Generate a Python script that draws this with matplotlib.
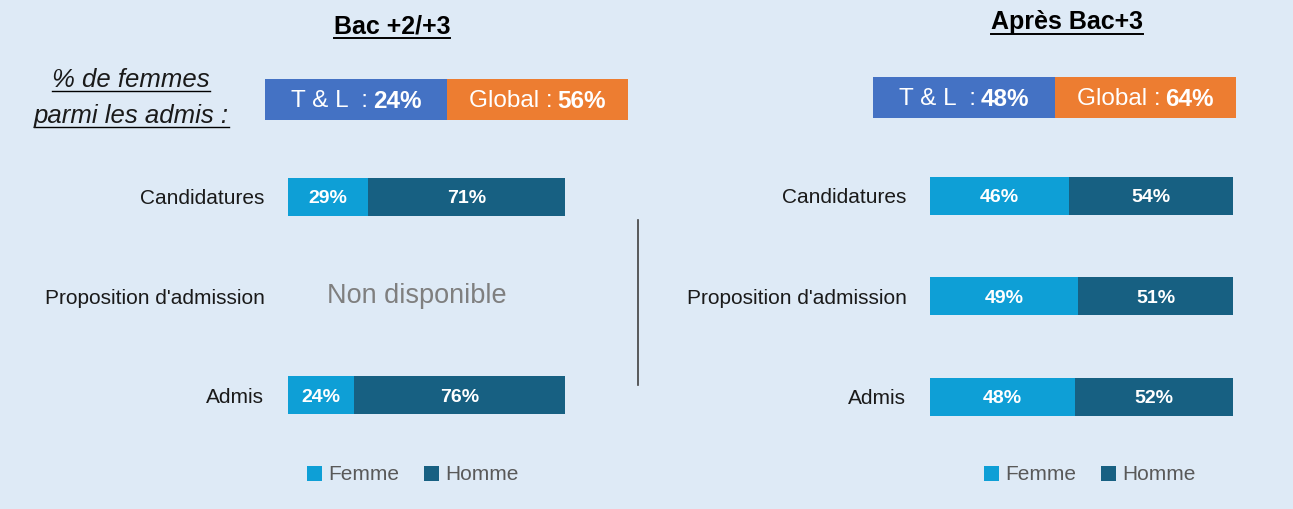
import matplotlib.pyplot as plt
from matplotlib.patches import Rectangle
from matplotlib.lines import Line2D

W, H = 1293, 509
BG = "#DEEAF6"
FEMME_C = "#0E9FD6"
HOMME_C = "#176082"
BLUE_BOX = "#4472C4"
ORANGE_BOX = "#ED7D31"

# data
categories = ["Candidatures", "Proposition d'admission", "Admis"]
left_femme = [29, None, 24]
left_homme = [71, None, 76]
right_femme = [46, 49, 48]
right_homme = [54, 51, 52]
panel_titles = ["Bac +2/+3", "Après Bac+3"]
tl_share = [24, 48]
global_share = [56, 64]

plt.rcParams['font.family'] = ['Liberation Sans', 'DejaVu Sans']

fig = plt.figure(figsize=(W / 100, H / 100), dpi=100)
fig.patch.set_facecolor(BG)


def fx(x):
    return x / W


def fy(y):
    return 1 - y / H


def draw_panel(rect, femme, homme, leg_x):
    x0, y0, x1, y1 = rect
    ax = fig.add_axes([fx(x0), fy(y1), (x1 - x0) / W, (y1 - y0) / H])
    ax.set_facecolor("none")
    pos = [i for i, v in enumerate(femme) if v is not None]
    fv = [femme[i] for i in pos]
    hv = [homme[i] for i in pos]
    bf = ax.barh(pos, fv, height=0.38, color=FEMME_C, label="Femme")
    bh = ax.barh(pos, hv, left=fv, height=0.38, color=HOMME_C, label="Homme")
    for i, f, h in zip(pos, fv, hv):
        ax.text(f / 2, i + 0.02, f"{f}%", ha="center", va="center", color="white",
                fontsize=14, fontweight="bold")
        ax.text(f + h / 2, i + 0.02, f"{h}%", ha="center", va="center", color="white",
                fontsize=14, fontweight="bold")
    for i, v in enumerate(femme):
        if v is None:
            ax.text(46.6, i, "Non disponible", ha="center", va="center",
                    color="#7F7F7F", fontsize=19.5)
    ax.set_xlim(0, 100)
    ax.set_ylim(2.5, -0.5)
    ax.set_yticks(range(len(categories)))
    ax.set_yticklabels(categories, fontsize=15, color="#1A1A1A")
    ax.tick_params(axis="y", length=0, pad=17)
    ax.set_xticks([])
    for s in ax.spines.values():
        s.set_visible(False)
    ax.legend(handles=[bf, bh], loc="center", ncol=2, frameon=False,
              bbox_to_anchor=(fx(leg_x), fy(475)), bbox_transform=fig.transFigure,
              fontsize=15, labelcolor="#595959", handlelength=0.7, handleheight=0.7,
              handletextpad=0.3, columnspacing=1.2)
    return ax


draw_panel((288, 147, 565, 445), left_femme, left_homme, 413)
draw_panel((930, 145.5, 1233, 447), right_femme, right_homme, 1090)

# separator line
fig.add_artist(Line2D([fx(638), fx(638)], [fy(220), fy(385)], color="#404040", lw=1.2))

renderer = fig.canvas.get_renderer()


def underline(t, off=2, lw=1.4):
    bb = t.get_window_extent(renderer)
    fig.add_artist(Line2D([bb.x0 / W, bb.x1 / W], [(bb.y0 - off) / H, (bb.y0 - off) / H],
                          color="black", lw=lw))


# titles
for title, xc, yc in zip(panel_titles, [392, 1067], [26, 22]):
    t = fig.text(fx(xc), fy(yc), title, ha="center", va="center", fontsize=18,
                 fontweight="bold", color="black")
    underline(t, 0)

# "% de femmes parmi les admis"
for line, yc in [("% de femmes", 80), ("parmi les admis :", 116)]:
    t = fig.text(fx(131), fy(yc), line, ha="center", va="center", fontsize=18.5,
                 style="italic", color="#1A1A1A")
    underline(t, -1, 1.0)


def mixed(xc, yc, parts, gap=5):
    texts = [fig.text(0, fy(yc), s, ha="left", va="center", fontsize=17.5, color="white",
                      fontweight=w) for s, w in parts]
    widths = [t.get_window_extent(renderer).width for t in texts]
    total = sum(widths) + gap * (len(texts) - 1)
    x = xc - total / 2
    for t, w in zip(texts, widths):
        t.set_x(fx(x))
        x += w + gap


boxes = [(265, 79, 447, 628, 120), (873, 77, 1055, 1236, 118)]
for (xa, ya, xm, xb, yb), tl, gl in zip(boxes, tl_share, global_share):
    fig.add_artist(Rectangle((fx(xa), fy(yb)), (xm - xa) / W, (yb - ya) / H,
                             transform=fig.transFigure, color=BLUE_BOX, lw=0))
    fig.add_artist(Rectangle((fx(xm), fy(yb)), (xb - xm) / W, (yb - ya) / H,
                             transform=fig.transFigure, color=ORANGE_BOX, lw=0))
    ym = (ya + yb) / 2 + 1.5
    mixed((xa + xm) / 2, ym, [("T & L  :", "normal"), (f"{tl}%", "bold")])
    mixed((xm + xb) / 2, ym, [("Global :", "normal"), (f"{gl}%", "bold")])

fig.savefig("out.png", dpi=100, facecolor=BG)
